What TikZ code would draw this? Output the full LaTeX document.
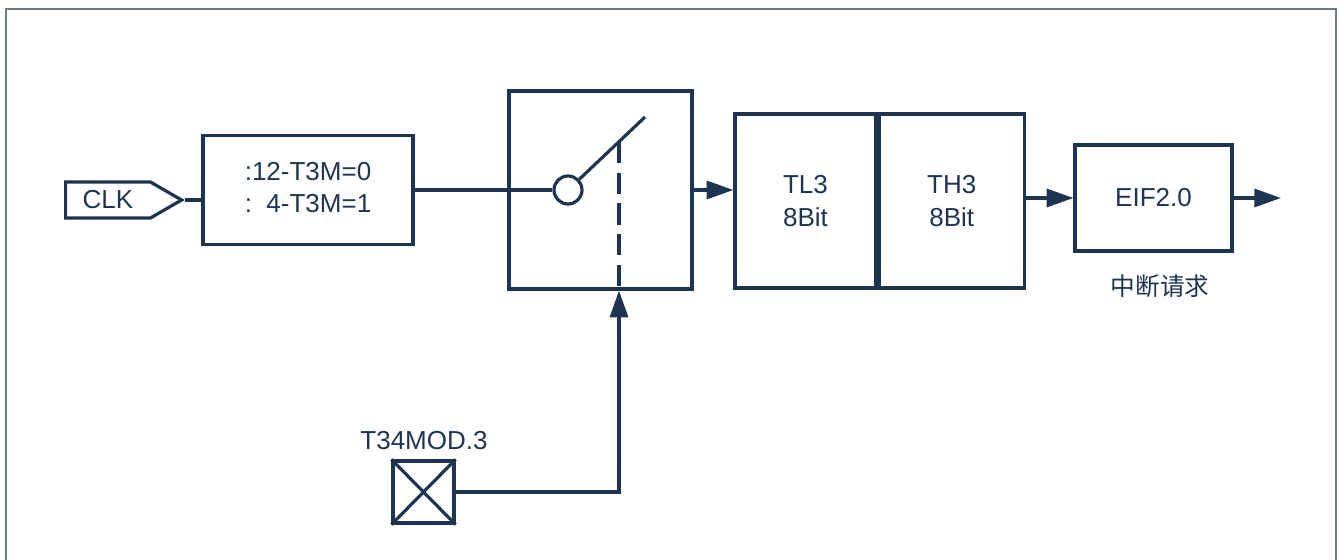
\documentclass[tikz,border=0pt]{standalone}
\usepackage{fontspec}
\setmainfont{Liberation Sans}
\newfontfamily\cjk{Noto Sans CJK SC}
\usepackage{tikz}
\usetikzlibrary{arrows.meta,shapes.symbols}
\definecolor{ink}{HTML}{1E3551}
\definecolor{framegrey}{HTML}{6B7B8C}
\tikzset{
  wire/.style={draw=ink, line width=2.4pt},
  flow/.style={wire, -{Triangle[length=20pt, width=13.5pt]}},
  block/.style={wire, rectangle, fill=white, align=center, text=ink,
    font=\fontsize{19.5}{23}\selectfont, inner sep=0pt},
  label/.style={text=ink, font=\fontsize{19.5}{23}\selectfont, inner sep=0pt},
  dashwire/.style={wire, dash pattern=on 16pt off 7pt}
}

\begin{document}
\begin{tikzpicture}[x=0.75pt,y=-0.75pt]
\path[use as bounding box] (0,0) rectangle (1339,560);
\draw[framegrey, line width=1.2pt] (6,560) -- (6,9) -- (1336,9) -- (1336,560);

% clock input and prescaler
\node[wire, signal, signal to=east, signal pointer angle=60, anchor=west,
  minimum width=87pt, minimum height=27pt, text=ink,
  font=\fontsize{19.5}{23}\selectfont] (clk) at (64,200) {CLK\hspace{12pt}};
\node[block, minimum width=157.5pt, minimum height=81.75pt] (div) at (308,190)
  {\raisebox{-5pt}{\begin{tabular}{@{}l@{}}:12-T3M=0\\[1pt]:\phantom{1}4-T3M=1\end{tabular}}};
\draw[wire] (clk.east) -- (clk.east -| div.west);

% run switch
\node[block, minimum width=137.25pt, minimum height=148.5pt] (sw) at (600.5,190) {};
\node[wire, circle, fill=white, minimum size=21pt, inner sep=0pt] (pivot) at (568,190) {};
\coordinate (armend) at (645,117);
\coordinate (tap) at (619,142);
\draw[wire] (div) -- (pivot);
\draw[wire] (pivot) -- (armend);
\draw[dashwire] (tap) -- (tap |- sw.south);

% counter registers
\node[block, minimum width=105.75pt, minimum height=130.5pt] (tl) at (805.5,201) {TL3\\[2pt]8Bit};
\node[block, anchor=west, minimum width=108.75pt, minimum height=130.5pt] (th) at (tl.east) {TH3\\[2pt]8Bit};
\draw[flow] (sw.east) -- (sw.east -| tl.west);

% interrupt flag
\node[block, minimum width=117.75pt, minimum height=79.5pt] (eif) at (1153.5,198) {EIF2.0};
\node[label, font=\cjk\fontsize{18.5}{22}\selectfont] (irq) at (1160,286) {中断请求};
\coordinate (irqout) at (1281,198);
\draw[flow] (th.east |- eif.west) -- (eif.west);
\draw[flow] (eif) -- (irqout);

% control bit
\node[block, minimum width=45.75pt, minimum height=46.5pt] (mod) at (423.5,492) {};
\draw[wire] (mod.north west) -- (mod.south east) (mod.south west) -- (mod.north east);
\node[label] (modtext) at (424,441) {T34MOD.3};
\draw[flow] (mod.east) -| (tap |- sw.south);
\end{tikzpicture}
\end{document}
